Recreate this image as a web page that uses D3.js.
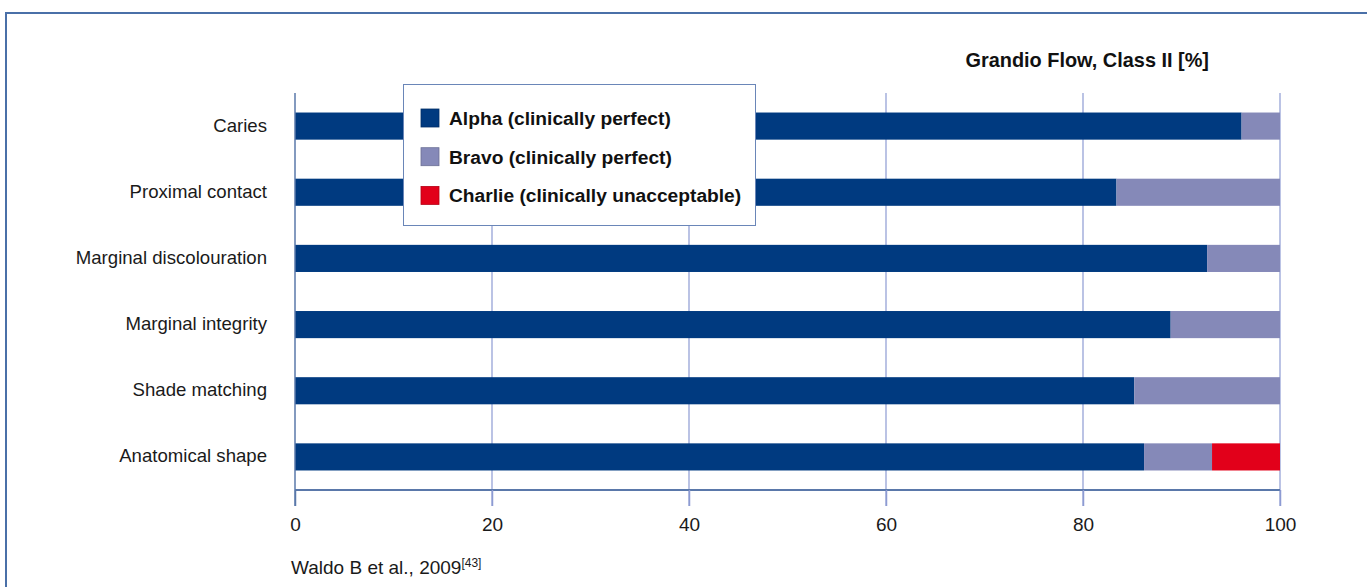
<!DOCTYPE html>
<html>
<head>
<meta charset="utf-8">
<script src="https://cdn.jsdelivr.net/npm/d3@7"></script>
<style>
  html, body { margin: 0; padding: 0; background: #fff; }
  svg { display: block; font-family: "Liberation Sans", Arial, sans-serif; }
</style>
</head>
<body>
<svg id="chart" width="1367" height="587"></svg>
<script>
// Clinical evaluation categories (top to bottom)
const categories = [
  "Caries",
  "Proximal contact",
  "Marginal discolouration",
  "Marginal integrity",
  "Shade matching",
  "Anatomical shape"
];
// Percentage of restorations rated per criterion
const alpha   = [96.1, 83.4, 92.6, 88.9, 85.2, 86.2];
const bravo   = [3.9, 16.6, 7.4, 11.1, 14.8, 6.9];
const charlie = [0, 0, 0, 0, 0, 6.9];

const seriesNames = [
  "Alpha (clinically perfect)",
  "Bravo (clinically perfect)",
  "Charlie (clinically unacceptable)"
];
const seriesColors = ["#003a80", "#8589b8", "#e2001a"];
const tickValues = [0, 20, 40, 60, 80, 100];
const chartTitle = "Grandio Flow, Class II [%]";
const sourceText = "Waldo B et al., 2009";
const sourceRef = "[43]";

const svg = d3.select("#chart");

// outer frame
svg.append("rect")
  .attr("x", 6).attr("y", 13)
  .attr("width", 1367).attr("height", 600)
  .attr("fill", "none")
  .attr("stroke", "#4a70a8")
  .attr("stroke-width", 2);

const x = d3.scaleLinear().domain([0, 100]).range([295, 1280]);
const y = d3.scaleBand().domain(categories).range([93, 490])
  .paddingInner(0.59).paddingOuter(0.295);

// vertical gridlines
svg.append("g").selectAll("line")
  .data(tickValues.filter(d => d > 0))
  .join("line")
  .attr("x1", d => x(d)).attr("x2", d => x(d))
  .attr("y1", 93).attr("y2", 506)
  .attr("stroke", "#8d9bd3")
  .attr("stroke-width", 1.2);

// stacked rows
const rows = categories.map((c, i) => ({ cat: c, vals: [alpha[i], bravo[i], charlie[i]] }));
const stacked = d3.stack().keys([0, 1, 2]).value((d, k) => d.vals[k])(rows);

svg.append("g").selectAll("g")
  .data(stacked)
  .join("g")
  .attr("fill", (d, i) => seriesColors[i])
  .selectAll("rect")
  .data(d => d)
  .join("rect")
  .attr("x", d => x(d[0]))
  .attr("y", d => y(d.data.cat))
  .attr("width", d => x(d[1]) - x(d[0]))
  .attr("height", y.bandwidth());

// x axis
const xAxis = svg.append("g")
  .attr("transform", "translate(0,490)")
  .call(d3.axisBottom(x).tickValues(tickValues).tickSize(16).tickPadding(12).tickFormat(d3.format("d")));
xAxis.select(".domain").attr("stroke", "#5a78aa").attr("stroke-width", 2).attr("d", `M${x(0)},0H${x(100)}`);
xAxis.selectAll(".tick line").attr("stroke", (d) => d === 0 ? "#5a78aa" : "#8d9bd3").attr("stroke-width", 1.5);
xAxis.selectAll(".tick text")
  .attr("fill", "#1a1a1a")
  .style("font-size", "19px")
  .style("font-family", "'Liberation Sans', Arial, sans-serif");

// left vertical axis at zero
svg.append("line")
  .attr("x1", x(0)).attr("x2", x(0))
  .attr("y1", 93).attr("y2", 506)
  .attr("stroke", "#5a78aa").attr("stroke-width", 1.5);

// category labels
svg.append("g").selectAll("text")
  .data(categories)
  .join("text")
  .attr("x", 267)
  .attr("y", d => y(d) + y.bandwidth() / 2)
  .attr("dy", "0.3em")
  .attr("text-anchor", "end")
  .attr("fill", "#1a1a1a")
  .style("font-size", "18.6px")
  .text(d => d);

// chart title
svg.append("text")
  .attr("x", 1209).attr("y", 67)
  .attr("text-anchor", "end")
  .attr("fill", "#111")
  .style("font-size", "19.9px")
  .style("font-weight", "bold")
  .text(chartTitle);

// legend
const legend = svg.append("g");
legend.append("rect")
  .attr("x", 403.5).attr("y", 84.5)
  .attr("width", 352).attr("height", 141)
  .attr("fill", "#fff")
  .attr("stroke", "#6a86b8")
  .attr("stroke-width", 1);
const items = legend.selectAll("g.item")
  .data(seriesNames)
  .join("g")
  .attr("class", "item")
  .attr("transform", (d, i) => `translate(421,${109 + i * 38.7})`);
items.append("rect")
  .attr("width", 18).attr("height", 18)
  .attr("fill", (d, i) => seriesColors[i])
  .attr("stroke", (d, i) => d3.color(seriesColors[i]).darker(0.6))
  .attr("stroke-width", 0.8);
items.append("text")
  .attr("x", 28).attr("y", 9)
  .attr("dy", "0.36em")
  .attr("fill", "#111")
  .style("font-size", "19.2px")
  .style("font-weight", "bold")
  .text(d => d);

// source note
const src = svg.append("text")
  .attr("x", 291).attr("y", 574)
  .attr("fill", "#1a1a1a")
  .style("font-size", "19px");
src.append("tspan").text(sourceText);
src.append("tspan").attr("dy", -7).style("font-size", "12px").text(sourceRef);
</script>
</body>
</html>
